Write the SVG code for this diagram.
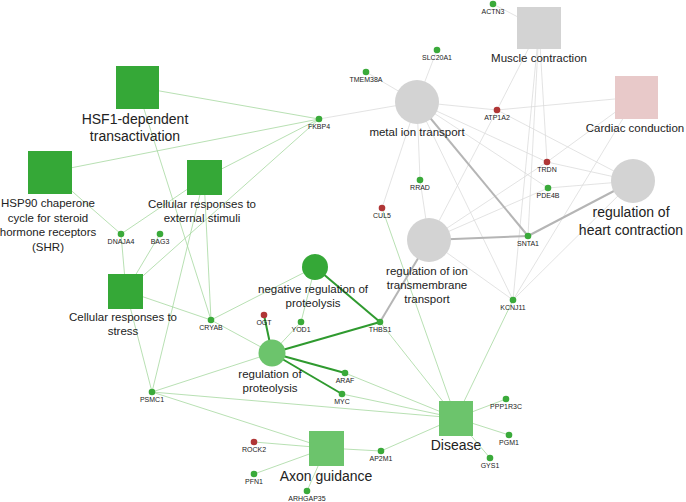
<svg xmlns="http://www.w3.org/2000/svg" width="686" height="502" viewBox="0 0 686 502">
<style>
.eg{stroke:#a6d8a0;stroke-width:0.8;fill:none}
.ey{stroke:#dcdcdc;stroke-width:0.8;fill:none}
.tg{stroke:#2f9a2f;stroke-width:2;fill:none}
.ty{stroke:#b5b5b5;stroke-width:2;fill:none}
.dg{fill:#35a837}
.lg{fill:#6cc46c}
.gy{fill:#d3d3d3}
.pk{fill:#e8c9c9}
.gn{fill:#3aaa3a}
.rd{fill:#b03636}
text{font-family:"Liberation Sans",Arial,sans-serif;fill:#222;text-anchor:middle}
.t{font-size:11.5px}
.T{font-size:14px}
.s{font-size:7px}
</style>
<rect width="686" height="502" fill="#fff"/>
<g id="connectors">
<!-- green thin -->
<line class="eg" x1="137" y1="87" x2="319" y2="119"/>
<line class="eg" x1="137" y1="87" x2="211" y2="320"/>
<line class="eg" x1="50" y1="172" x2="319" y2="119"/>
<line class="eg" x1="50" y1="172" x2="121" y2="234"/>
<line class="eg" x1="204" y1="178" x2="319" y2="119"/>
<line class="eg" x1="204" y1="178" x2="121" y2="234"/>
<line class="eg" x1="204" y1="178" x2="211" y2="320"/>
<line class="eg" x1="204" y1="178" x2="152" y2="392"/>
<line class="eg" x1="126" y1="291" x2="121" y2="234"/>
<line class="eg" x1="126" y1="291" x2="160" y2="234"/>
<line class="eg" x1="126" y1="291" x2="319" y2="119"/>
<line class="eg" x1="126" y1="291" x2="211" y2="320"/>
<line class="eg" x1="126" y1="291" x2="152" y2="392"/>
<line class="eg" x1="315" y1="267" x2="211" y2="320"/>
<line class="eg" x1="315" y1="267" x2="301" y2="322"/>
<line class="eg" x1="272" y1="353" x2="211" y2="320"/>
<line class="eg" x1="272" y1="353" x2="301" y2="322"/>
<line class="eg" x1="272" y1="353" x2="152" y2="392"/>
<line class="eg" x1="456" y1="418" x2="152" y2="392"/>
<line class="eg" x1="326" y1="448" x2="152" y2="392"/>
<line class="eg" x1="456" y1="418" x2="380" y2="322"/>
<line class="eg" x1="456" y1="418" x2="345" y2="373"/>
<line class="eg" x1="456" y1="418" x2="342" y2="394"/>
<line class="eg" x1="456" y1="418" x2="382" y2="208"/>
<line class="eg" x1="456" y1="418" x2="513" y2="300"/>
<line class="eg" x1="326" y1="448" x2="381" y2="451"/>
<line class="eg" x1="456" y1="418" x2="381" y2="451"/>
<line class="eg" x1="326" y1="448" x2="254" y2="442"/>
<line class="eg" x1="326" y1="448" x2="254" y2="474"/>
<line class="eg" x1="326" y1="448" x2="307" y2="491"/>
<line class="eg" x1="456" y1="418" x2="506" y2="399"/>
<line class="eg" x1="456" y1="418" x2="509" y2="435"/>
<line class="eg" x1="456" y1="418" x2="490" y2="458"/>
<!-- gray thin -->
<line class="ey" x1="539" y1="28" x2="493" y2="4"/>
<line class="ey" x1="417" y1="102" x2="437" y2="50"/>
<line class="ey" x1="417" y1="102" x2="366" y2="72"/>
<line class="ey" x1="417" y1="102" x2="319" y2="119"/>
<line class="ey" x1="417" y1="102" x2="497" y2="110"/>
<line class="ey" x1="539" y1="28" x2="497" y2="110"/>
<line class="ey" x1="636" y1="97" x2="497" y2="110"/>
<line class="ey" x1="633" y1="181" x2="497" y2="110"/>
<line class="ey" x1="429" y1="240" x2="497" y2="110"/>
<line class="ey" x1="539" y1="28" x2="547" y2="162"/>
<line class="ey" x1="636" y1="97" x2="547" y2="162"/>
<line class="ey" x1="633" y1="181" x2="547" y2="162"/>
<line class="ey" x1="417" y1="102" x2="547" y2="162"/>
<line class="ey" x1="429" y1="240" x2="547" y2="162"/>
<line class="ey" x1="633" y1="181" x2="548" y2="188"/>
<line class="ey" x1="417" y1="102" x2="548" y2="188"/>
<line class="ey" x1="429" y1="240" x2="548" y2="188"/>
<line class="ey" x1="417" y1="102" x2="420" y2="180"/>
<line class="ey" x1="429" y1="240" x2="420" y2="180"/>
<line class="ey" x1="417" y1="102" x2="382" y2="208"/>
<line class="ey" x1="539" y1="28" x2="528" y2="236"/>
<line class="ey" x1="417" y1="102" x2="513" y2="300"/>
<line class="ey" x1="429" y1="240" x2="513" y2="300"/>
<line class="ey" x1="539" y1="28" x2="513" y2="300"/>
<line class="ey" x1="633" y1="181" x2="513" y2="300"/>
<line class="ey" x1="636" y1="97" x2="513" y2="300"/>
<!-- thick -->
<line class="ty" x1="417" y1="102" x2="528" y2="236"/>
<line class="ty" x1="429" y1="240" x2="528" y2="236"/>
<line class="ty" x1="633" y1="181" x2="528" y2="236"/>
<line class="ty" x1="429" y1="240" x2="380" y2="322"/>
<line class="tg" x1="315" y1="267" x2="380" y2="322"/>
<line class="tg" x1="272" y1="353" x2="380" y2="322"/>
<line class="tg" x1="272" y1="353" x2="264" y2="315"/>
<line class="tg" x1="272" y1="353" x2="345" y2="373"/>
<line class="tg" x1="272" y1="353" x2="342" y2="394"/>
</g>
<g id="hsf1"><rect class="dg" x="116" y="66" width="43" height="43"/><text class="T" x="135" y="124">HSF1-dependent</text><text class="T" x="135" y="141">transactivation</text></g>
<g id="hsp90"><rect class="dg" x="28" y="151" width="44" height="43"/><text class="t" x="48" y="207">HSP90 chaperone</text><text class="t" x="48" y="221.5">cycle for steroid</text><text class="t" x="48" y="236">hormone receptors</text><text class="t" x="48" y="251">(SHR)</text></g>
<g id="ext"><rect class="dg" x="187" y="160" width="35" height="35"/><text class="t" x="202" y="208">Cellular responses to</text><text class="t" x="202" y="222">external stimuli</text></g>
<g id="stress"><rect class="dg" x="108" y="274" width="35" height="35"/><text class="t" x="123" y="321">Cellular responses to</text><text class="t" x="123" y="335">stress</text></g>
<g id="negreg"><circle class="dg" cx="315" cy="267" r="13"/><text class="t" x="313" y="293">negative regulation of</text><text class="t" x="313" y="307">proteolysis</text></g>
<g id="regprot"><circle class="lg" cx="272" cy="353" r="13.5"/><text class="t" x="270" y="378">regulation of</text><text class="t" x="270" y="392">proteolysis</text></g>
<g id="axon"><rect class="lg" x="309" y="431" width="35" height="35"/><text class="T" x="326" y="481">Axon guidance</text></g>
<g id="disease"><rect class="lg" x="439" y="401" width="34" height="35"/><text class="T" x="456" y="450">Disease</text></g>
<g id="region"><circle class="gy" cx="429" cy="240" r="22"/><text class="t" x="427" y="275">regulation of ion</text><text class="t" x="427" y="289">transmembrane</text><text class="t" x="427" y="303">transport</text></g>
<g id="metal"><circle class="gy" cx="417" cy="102" r="22"/><text class="t" x="417" y="136">metal ion transport</text></g>
<g id="muscle"><rect class="gy" x="517" y="7" width="44" height="42"/><text class="t" x="539" y="62">Muscle contraction</text></g>
<g id="cardiac"><rect class="pk" x="615" y="76" width="43" height="43"/><text class="t" x="635" y="132">Cardiac conduction</text></g>
<g id="heart"><circle class="gy" cx="633" cy="181" r="22"/><text class="T" x="631" y="217">regulation of</text><text class="T" x="631" y="235">heart contraction</text></g>
<g id="ACTN3"><circle class="gn" cx="493" cy="4" r="3.3"/><text class="s" x="493" y="14">ACTN3</text></g>
<g id="SLC20A1"><circle class="gn" cx="437" cy="50" r="3.3"/><text class="s" x="437" y="60">SLC20A1</text></g>
<g id="TMEM38A"><circle class="gn" cx="366" cy="72" r="3.3"/><text class="s" x="366" y="82">TMEM38A</text></g>
<g id="FKBP4"><circle class="gn" cx="319" cy="119" r="3.3"/><text class="s" x="319" y="129">FKBP4</text></g>
<g id="ATP1A2"><circle class="rd" cx="497" cy="110" r="3.3"/><text class="s" x="497" y="120">ATP1A2</text></g>
<g id="TRDN"><circle class="rd" cx="547" cy="162" r="3.3"/><text class="s" x="547" y="172">TRDN</text></g>
<g id="PDE4B"><circle class="gn" cx="548" cy="188" r="3.3"/><text class="s" x="548" y="198">PDE4B</text></g>
<g id="RRAD"><circle class="gn" cx="420" cy="180" r="3.3"/><text class="s" x="420" y="190">RRAD</text></g>
<g id="CUL5"><circle class="rd" cx="382" cy="208" r="3.3"/><text class="s" x="382" y="218">CUL5</text></g>
<g id="SNTA1"><circle class="gn" cx="528" cy="236" r="3.3"/><text class="s" x="528" y="246">SNTA1</text></g>
<g id="KCNJ11"><circle class="gn" cx="513" cy="300" r="3.3"/><text class="s" x="513" y="310">KCNJ11</text></g>
<g id="THBS1"><circle class="gn" cx="380" cy="322" r="3.3"/><text class="s" x="380" y="332">THBS1</text></g>
<g id="DNAJA4"><circle class="gn" cx="121" cy="234" r="3.3"/><text class="s" x="121" y="244">DNAJA4</text></g>
<g id="BAG3"><circle class="gn" cx="160" cy="234" r="3.3"/><text class="s" x="160" y="244">BAG3</text></g>
<g id="CRYAB"><circle class="gn" cx="211" cy="320" r="3.3"/><text class="s" x="211" y="330">CRYAB</text></g>
<g id="OGT"><circle class="rd" cx="264" cy="315" r="3.3"/><text class="s" x="264" y="325">OGT</text></g>
<g id="YOD1"><circle class="gn" cx="301" cy="322" r="3.3"/><text class="s" x="301" y="332">YOD1</text></g>
<g id="ARAF"><circle class="gn" cx="345" cy="373" r="3.3"/><text class="s" x="345" y="383">ARAF</text></g>
<g id="MYC"><circle class="gn" cx="342" cy="394" r="3.3"/><text class="s" x="342" y="404">MYC</text></g>
<g id="PSMC1"><circle class="gn" cx="152" cy="392" r="3.3"/><text class="s" x="152" y="402">PSMC1</text></g>
<g id="ROCK2"><circle class="rd" cx="254" cy="442" r="3.3"/><text class="s" x="254" y="452">ROCK2</text></g>
<g id="PFN1"><circle class="gn" cx="254" cy="474" r="3.3"/><text class="s" x="254" y="484">PFN1</text></g>
<g id="ARHGAP35"><circle class="gn" cx="307" cy="491" r="3.3"/><text class="s" x="307" y="501">ARHGAP35</text></g>
<g id="AP2M1"><circle class="gn" cx="381" cy="451" r="3.3"/><text class="s" x="381" y="461">AP2M1</text></g>
<g id="PPP1R3C"><circle class="gn" cx="506" cy="399" r="3.3"/><text class="s" x="506" y="409">PPP1R3C</text></g>
<g id="PGM1"><circle class="gn" cx="509" cy="435" r="3.3"/><text class="s" x="509" y="445">PGM1</text></g>
<g id="GYS1"><circle class="gn" cx="490" cy="458" r="3.3"/><text class="s" x="490" y="468">GYS1</text></g>
</svg>
